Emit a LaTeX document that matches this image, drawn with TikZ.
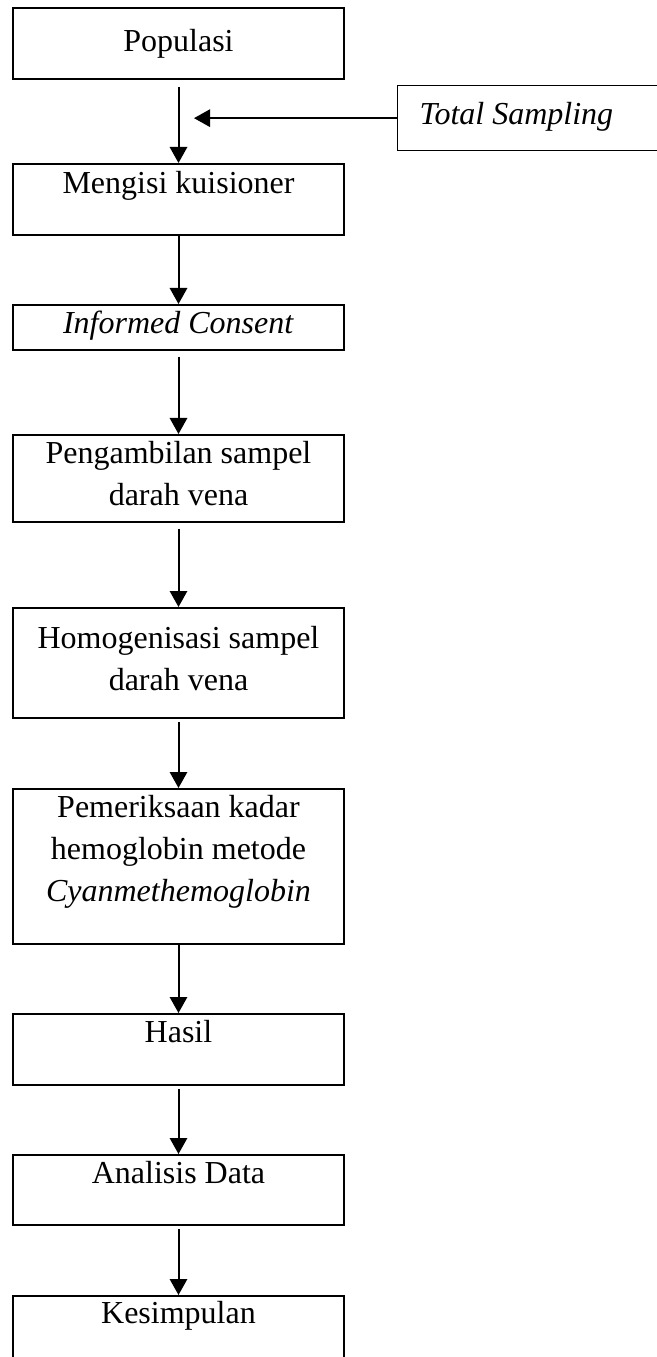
\documentclass[tikz,border=0pt]{standalone}
\usepackage{fontspec}
\setmainfont{Liberation Serif}
\usetikzlibrary{arrows.meta}

\newdimen\pxu \pxu=0.375pt
% box text: height, first baseline, text
\newcommand{\flowtext}[3]{\parbox[t][#1\pxu][t]{331\pxu}{\centering\rule{0pt}{#2\pxu}#3}}

\tikzset{
  flowbox/.style={draw,line width=0.7pt,inner sep=0pt,anchor=north,font=\fontsize{12}{15.6}\selectfont},
  sidebox/.style={draw,line width=0.5pt,inner sep=0pt,anchor=north west,font=\fontsize{12}{15.6}\selectfont},
  flowarrow/.style={-{Triangle[length=6pt,width=6.5pt]},line width=0.75pt}
}

\begin{document}
\begin{tikzpicture}[x=0.375pt,y=-0.375pt]
        \useasboundingbox (0,0) rectangle (657,1357);

        %%%%%%%%%% Steps %%%%%%%%%%
        \node[flowbox] (populasi) at (178.5,7) {\flowtext{71}{44}{Populasi}};
        \node[flowbox] (mengisi) at (178.5,163) {\flowtext{71}{30}{Mengisi kuisioner}};
        \node[flowbox] (consent) at (178.5,304) {\flowtext{45}{29}{\textit{Informed Consent}}};
        \node[flowbox] (pengambilan) at (178.5,434) {\flowtext{87}{29}{Pengambilan sampel\\darah vena}};
        \node[flowbox] (homogenisasi) at (178.5,607) {\flowtext{110}{41}{Homogenisasi sampel\\darah vena}};
        \node[flowbox] (pemeriksaan) at (178.5,788) {\flowtext{155}{29}{Pemeriksaan kadar\\hemoglobin metode\\\textit{Cyanmethemoglobin}}};
        \node[flowbox] (hasil) at (178.5,1013) {\flowtext{71}{29}{Hasil}};
        \node[flowbox] (analisis) at (178.5,1154) {\flowtext{70}{29}{Analisis Data}};
        \node[flowbox] (kesimpulan) at (178.5,1295) {\flowtext{80}{28}{Kesimpulan}};

        %%%%%%%%% Sampling %%%%%%%%
        \node[sidebox] (sampling) at (397,85) {\parbox[t][65\pxu][t]{280\pxu}{\hspace*{22\pxu}\rule{0pt}{39\pxu}\textit{Total Sampling}}};
        \coordinate (samplingend) at (194,118);

        %%%%%%%%% Arrows %%%%%%%%%%
        \draw[flowarrow,shorten <=2.6pt] (populasi) -- (mengisi);
        \draw[flowarrow] (sampling.west) -- (sampling.west -| samplingend);
        \draw[flowarrow] (mengisi) -- (consent);
        \draw[flowarrow,shorten <=2.2pt] (consent) -- (pengambilan);
        \draw[flowarrow,shorten <=2.2pt] (pengambilan) -- (homogenisasi);
        \draw[flowarrow,shorten <=1.1pt] (homogenisasi) -- (pemeriksaan);
        \draw[flowarrow] (pemeriksaan) -- (hasil);
        \draw[flowarrow,shorten <=1.1pt] (hasil) -- (analisis);
        \draw[flowarrow,shorten <=1.1pt] (analisis) -- (kesimpulan);
    \end{tikzpicture}
\end{document}
